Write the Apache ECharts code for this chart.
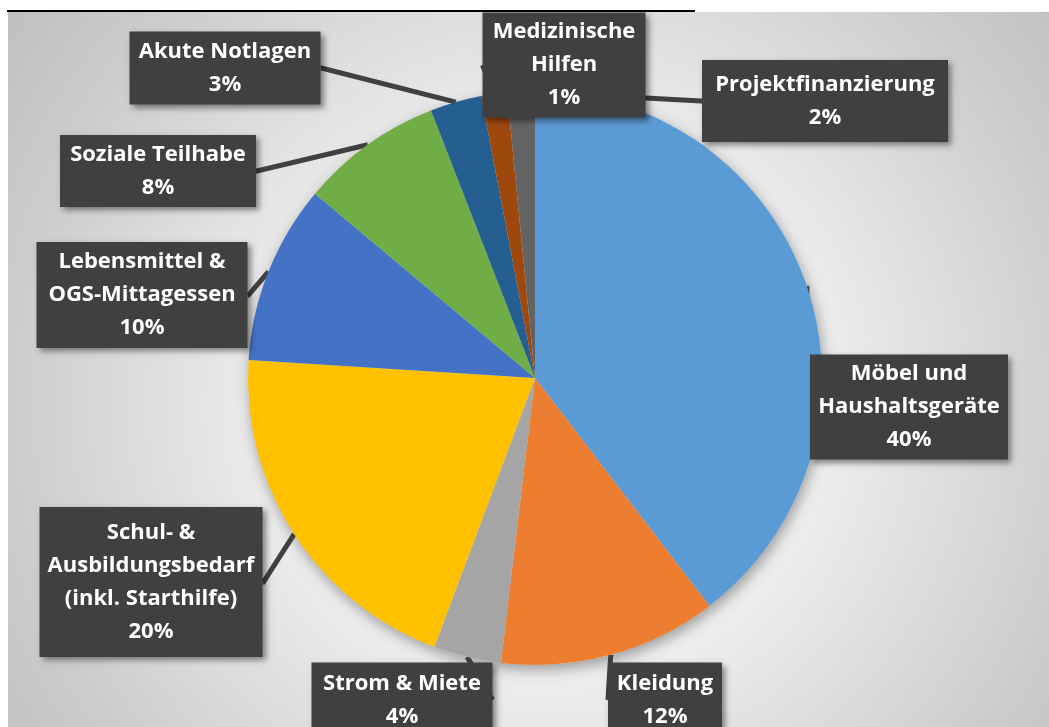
<!DOCTYPE html>
<html>
<head>
<meta charset="utf-8">
<script src="https://cdn.jsdelivr.net/npm/echarts@6/dist/echarts.min.js"></script>
<style>
  html, body { margin: 0; padding: 0; background: #fff; }
  #chart { width: 1049px; height: 727px; }
</style>
</head>
<body>
<div id="chart"></div>
<script>
// categories (clockwise from 12 o'clock)
const categories = [
  'Möbel und\nHaushaltsgeräte',
  'Kleidung',
  'Strom & Miete',
  'Schul- &\nAusbildungsbedarf\n(inkl. Starthilfe)',
  'Lebensmittel &\nOGS-Mittagessen',
  'Soziale Teilhabe',
  'Akute Notlagen',
  'Medizinische\nHilfen',
  'Projektfinanzierung'
]
// share of total, in percent
const values = [39.6, 12.3, 3.8, 20.3, 10.1, 8.0, 2.9, 1.45, 1.55]
const colors = ['#5B9BD5', '#ED7D31', '#A5A5A5', '#FFC000', '#4472C4', '#70AD47', '#255E91', '#9E480E', '#636363']

// callout boxes: centre x, centre y, width, height
const boxes = [
  [909, 407, 198, 105],
  [665, 700, 114, 75],
  [402, 700, 181, 75],
  [151, 582, 223, 150],
  [142, 295, 211, 106],
  [158, 171, 196, 72],
  [225, 68, 191, 73],
  [564, 65, 163, 105],
  [825, 101, 246, 82]
]

const LH = 33

const chart = echarts.init(document.getElementById('chart'))

const data = values.map((v, i) => {
  const lines = categories[i].split('\n').length + 1
  const b = boxes[i]
  const pv = Math.max(3, (b[3] - lines * LH) / 2)
  return {
    name: categories[i],
    value: v,
    itemStyle: { color: colors[i] },
    label: {
      width: b[2],
      padding: [pv + 3, 0, pv - 3, 0]
    }
  }
})

const option = {
  backgroundColor: '#ffffff',
  graphic: [
    {
      type: 'rect',
      silent: true,
      z: -10,
      shape: { x: 8, y: 12, width: 1041, height: 715 },
      style: {
        fill: {
          type: 'radial', x: 0.52, y: 0.55, r: 0.95,
          colorStops: [
            { offset: 0, color: '#f8f8f8' },
            { offset: 0.4, color: '#eeeeee' },
            { offset: 0.8, color: '#cccccc' },
            { offset: 1, color: '#bebebe' }
          ]
        }
      }
    },
    {
      type: 'line',
      silent: true,
      shape: { x1: 7, y1: 11, x2: 695, y2: 11 },
      style: { stroke: '#000', lineWidth: 2 }
    }
  ],
  series: [
    {
      // soft shadow under the pie
      type: 'pie',
      silent: true,
      center: [535, 378],
      radius: 287,
      z: 1,
      label: { show: false },
      labelLine: { show: false },
      itemStyle: {
        color: '#ddd',
        shadowBlur: 14,
        shadowOffsetX: 2,
        shadowOffsetY: 5,
        shadowColor: 'rgba(0,0,0,0.35)'
      },
      data: [{ value: 1 }]
    },
    {
      type: 'pie',
      center: [535, 378],
      radius: 287,
      startAngle: 90,
      clockwise: true,
      z: 2,
      percentPrecision: 0,
      avoidLabelOverlap: false,
      label: {
        show: true,
        formatter: '{b}\n{d}%',
        fontFamily: 'Open Sans',
        fontWeight: 'bold',
        fontSize: 22,
        lineHeight: LH,
        color: '#ffffff',
        align: 'center',
        backgroundColor: '#404040',
        shadowColor: 'rgba(0,0,0,0.45)',
        shadowBlur: 6,
        shadowOffsetX: 3,
        shadowOffsetY: 3
      },
      labelLine: {
        show: true,
        length: 1,
        length2: 1,
        lineStyle: { color: '#404040', width: 5 }
      },
      labelLayout: function (params) {
        const b = boxes[params.dataIndex]
        return {
          x: b[0],
          y: b[1],
          align: 'center',
          verticalAlign: 'middle'
        }
      },
      emphasis: { disabled: true },
      data: data
    }
  ]
}

chart.setOption(option)
</script>
</body>
</html>
